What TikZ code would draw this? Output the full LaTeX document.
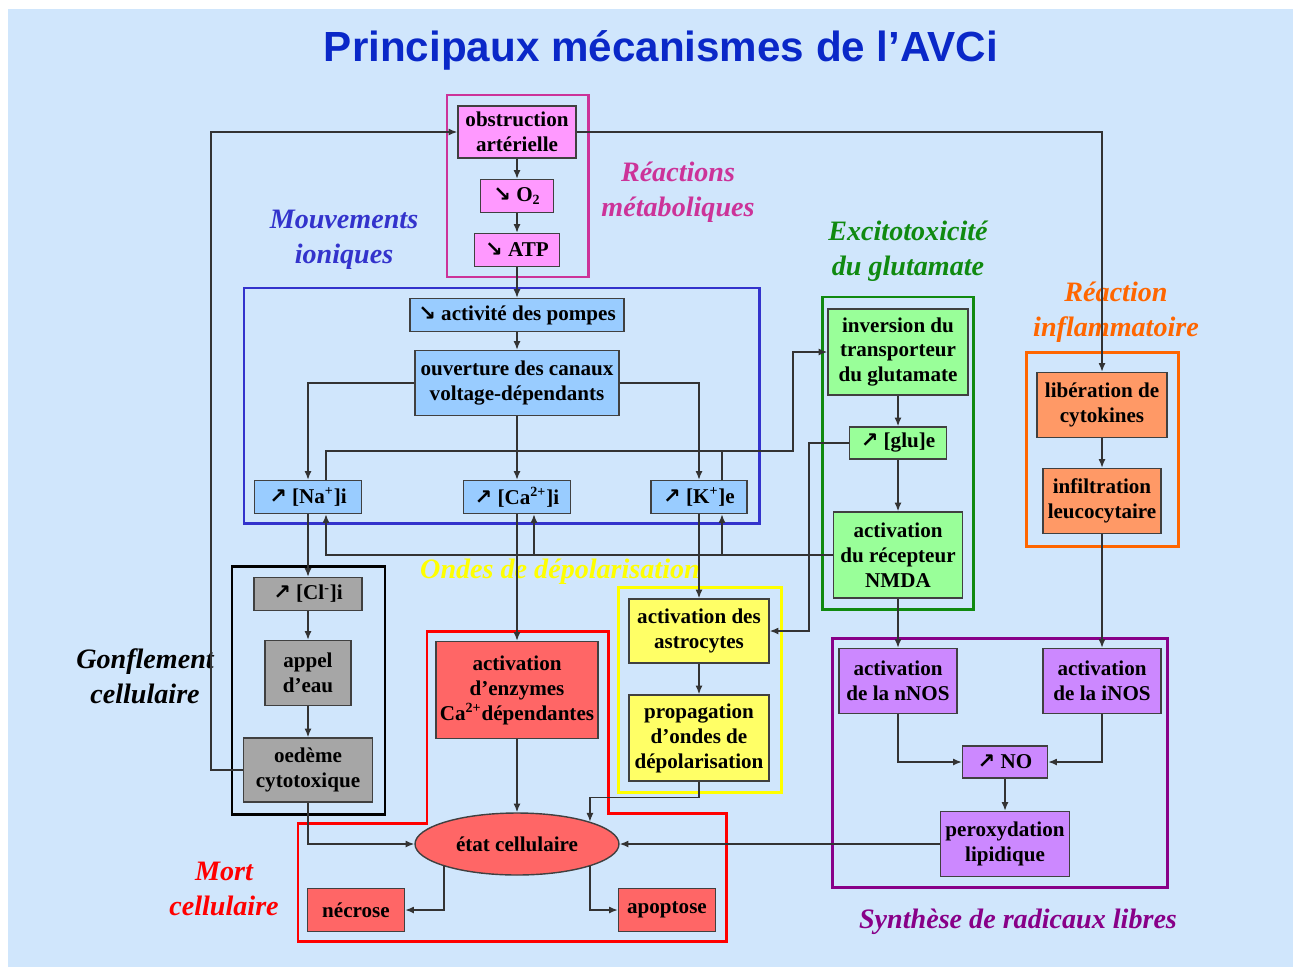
\documentclass[tikz,border=0pt]{standalone}
\usepackage{fontspec}
\setmainfont{Liberation Serif}
\newfontfamily\titrefont{Liberation Sans}
\newfontfamily\flechefont{DejaVu Sans}
\usepackage{xcolor}
\usepackage{tikz}
\usetikzlibrary{shapes,arrows.meta,positioning}

\definecolor{fond}{HTML}{D0E6FC}
\definecolor{titreC}{HTML}{0A28C8}
\definecolor{roseF}{HTML}{FF99FF}
\definecolor{roseC}{HTML}{CC3399}
\definecolor{bleuF}{HTML}{99CCFF}
\definecolor{bleuC}{HTML}{3333CC}
\definecolor{vertF}{HTML}{99FF99}
\definecolor{vertC}{HTML}{108A10}
\definecolor{orangeF}{HTML}{FF9966}
\definecolor{orangeC}{HTML}{FF6600}
\definecolor{grisF}{HTML}{A6A6A6}
\definecolor{rougeF}{HTML}{FF6666}
\definecolor{rougeC}{HTML}{FF0000}
\definecolor{jauneF}{HTML}{FFFF66}
\definecolor{jauneC}{HTML}{FFFF00}
\definecolor{violetF}{HTML}{CC88FF}
\definecolor{violetC}{HTML}{880088}

\newcommand{\hausse}{{\flechefont ↗}}
\newcommand{\baisse}{{\flechefont ↘}}

\begin{document}
\begin{tikzpicture}[
    x=0.02cm, y=-0.02cm,
    box/.style={draw=black!75, line width=0.8pt, rectangle, align=center, inner sep=1pt,
        font=\bfseries\fontsize{12}{14.2}\selectfont},
    cadre/.style={line width=1.7pt},
    titre/.style={align=center, font=\bfseries\itshape\fontsize{16}{20}\selectfont},
    arr/.style={-{Latex[length=5pt,width=4pt]}, line width=0.8pt, draw=black!80},
    lien/.style={line width=0.8pt, draw=black!80}
]
    \useasboundingbox (0,0) rectangle (1301,967);
    \fill[fond] (8,9) rectangle (1293,967);

    % Title
    \node[text=titreC, font=\titrefont\bfseries\fontsize{24}{28}\selectfont] (title) at (661,50) {Principaux mécanismes de l’AVCi};

    % Frames
    \draw[cadre, roseC] (447,95) rectangle (588,277);
    \draw[cadre, bleuC] (244,288) rectangle (759,523);
    \draw[cadre, vertC] (822,297) rectangle (973,609);
    \draw[cadre, orangeC] (1026,352) rectangle (1178,546);
    \draw[cadre, black] (232,566) rectangle (385,814);
    \draw[cadre, jauneC] (618,587) rectangle (781,792);
    \draw[cadre, violetC] (832,638) rectangle (1167,887);
    \draw[cadre, rougeC] (427,631) -- (608,631) -- (608,813) -- (726,813) -- (726,941)
        -- (298,941) -- (298,823) -- (427,823) -- cycle;

    % Group labels
    \node[titre, text=roseC] (lmeta) at (678,192) {Réactions\\métaboliques};
    \node[titre, text=bleuC] (lion) at (344,240) {Mouvements\\ioniques};
    \node[titre, text=vertC] (lexci) at (908,251) {Excitotoxicité\\du glutamate};
    \node[titre, text=orangeC] (linfl) at (1116,312) {Réaction\\inflammatoire};
    \node[titre, text=black] (lgonf) at (145,676) {Gonflement\\cellulaire};
    \node[titre, text=jauneC] (londes) at (560,572) {Ondes de dépolarisation};
    \node[titre, text=rougeC] (lmort) at (224,889) {Mort\\cellulaire};
    \node[titre, text=violetC] (lrad) at (1018,922) {Synthèse de radicaux libres};

    % Metabolic reactions
    \node[box, fill=roseF, minimum width=2.36cm, minimum height=1.04cm] (obst) at (517,132) {obstruction\\artérielle};
    \node[box, fill=roseF, minimum width=1.46cm, minimum height=0.66cm] (o2) at (517,196) {\baisse\ O\textsubscript{2}};
    \node[box, fill=roseF, minimum width=1.70cm, minimum height=0.66cm] (atp) at (517,250) {\baisse\ ATP};

    % Ionic movements
    \node[box, fill=bleuF, minimum width=4.28cm, minimum height=0.66cm] (pompes) at (517,315) {\baisse\ activité des pompes};
    \node[box, fill=bleuF, minimum width=4.08cm, minimum height=1.30cm] (canaux) at (517,383) {ouverture des canaux\\voltage-dépendants};
    \node[box, fill=bleuF, minimum width=2.14cm, minimum height=0.66cm] (na) at (308,497) {\hausse\ [Na\textsuperscript{+}]i};
    \node[box, fill=bleuF, minimum width=2.14cm, minimum height=0.66cm] (ca) at (517,497) {\hausse\ [Ca\textsuperscript{2+}]i};
    \node[box, fill=bleuF, minimum width=1.92cm, minimum height=0.66cm] (k) at (699,497) {\hausse\ [K\textsuperscript{+}]e};

    % Glutamate
    \node[box, fill=vertF, minimum width=2.80cm, minimum height=1.72cm] (inv) at (898,352) {inversion du\\transporteur\\du glutamate};
    \node[box, fill=vertF, minimum width=1.94cm, minimum height=0.64cm] (glu) at (898,443) {\hausse\ [glu]e};
    \node[box, fill=vertF, minimum width=2.58cm, minimum height=1.72cm] (nmda) at (898,555) {activation\\du récepteur\\NMDA};

    % Inflammation
    \node[box, fill=orangeF, minimum width=2.60cm, minimum height=1.30cm] (cyto) at (1102,405) {libération de\\cytokines};
    \node[box, fill=orangeF, minimum width=2.36cm, minimum height=1.30cm] (leuco) at (1102,501) {infiltration\\leucocytaire};

    % Swelling
    \node[box, fill=grisF, minimum width=2.16cm, minimum height=0.66cm] (cl) at (308,594) {\hausse\ [Cl\textsuperscript{-}]i};
    \node[box, fill=grisF, minimum width=1.72cm, minimum height=1.30cm] (eau) at (308,673) {appel\\d’eau};
    \node[box, fill=grisF, minimum width=2.58cm, minimum height=1.28cm] (oedeme) at (308,770) {oedème\\cytotoxique};

    % Cell death
    \node[box, fill=rougeF, minimum width=3.24cm, minimum height=1.94cm] (enz) at (517,690) {activation\\d’enzymes\\Ca\textsuperscript{2+}dépendantes};
    \node[box, ellipse, fill=rougeF, inner sep=0pt, minimum width=4.08cm, minimum height=1.24cm] (etat) at (517,844) {état cellulaire};
    \node[box, fill=rougeF, minimum width=1.94cm, minimum height=0.86cm] (necrose) at (356,910) {nécrose};
    \node[box, fill=rougeF, minimum width=1.94cm, minimum height=0.86cm] (apoptose) at (667,910) {apoptose};

    % Depolarisation waves
    \node[box, fill=jauneF, minimum width=2.80cm, minimum height=1.28cm] (astro) at (699,631) {activation des\\astrocytes};
    \node[box, fill=jauneF, minimum width=2.80cm, minimum height=1.72cm] (propag) at (699,738) {propagation\\d’ondes de\\dépolarisation};

    % Free radicals
    \node[box, fill=violetF, minimum width=2.36cm, minimum height=1.30cm] (nnos) at (898,681) {activation\\de la nNOS};
    \node[box, fill=violetF, minimum width=2.36cm, minimum height=1.30cm] (inos) at (1102,681) {activation\\de la iNOS};
    \node[box, fill=violetF, minimum width=1.70cm, minimum height=0.64cm] (no) at (1005,762) {\hausse\ NO};
    \node[box, fill=violetF, minimum width=2.58cm, minimum height=1.30cm] (perox) at (1005,844) {peroxydation\\lipidique};

    % Connectors
    \draw[arr] (obst) -- (o2);
    \draw[arr] (o2) -- (atp);
    \draw[arr] (atp) -- (pompes);
    \draw[arr] (pompes) -- (canaux);
    \draw[arr] (canaux.west) -| (na);
    \draw[arr] (canaux) -- (ca);
    \draw[arr] (canaux.east) -| (k);
    \coordinate (jinv) at (793,451);
    \draw[arr] ([xshift=0.36cm]na.north) |- (jinv) |- (inv.west);
    \draw[lien] ([xshift=0.46cm]k.north) |- (jinv);
    \draw[arr] (nmda.west) -| ([xshift=0.36cm]na.south);
    \draw[arr] (nmda.west) -| ([xshift=0.34cm]ca.south);
    \draw[arr] (nmda.west) -| ([xshift=0.46cm]k.south);
    \draw[arr] (na) -- (cl);
    \draw[arr] (cl) -- (eau);
    \draw[arr] (eau) -- (oedeme);
    \draw[arr] (oedeme.west) -- ++(-32,0) |- (obst.west);
    \draw[arr] (oedeme.south) |- (etat.west);
    \draw[arr] (ca) -- (enz);
    \draw[arr] (enz) -- (etat);
    \draw[arr] (k) -- (astro);
    \draw[arr] (astro) -- (propag);
    \draw[arr] (propag.south) -- ++(0,16) -| (etat.17);
    \draw[arr] (inv) -- (glu);
    \draw[arr] (glu) -- (nmda);
    \draw[arr] (glu.west) -- ++(-40,0) |- (astro.east);
    \draw[arr] (nmda) -- (nnos);
    \draw[arr] (obst.east) -| (cyto);
    \draw[arr] (cyto) -- (leuco);
    \draw[arr] (leuco) -- (inos);
    \draw[arr] (nnos.south) |- (no.west);
    \draw[arr] (inos.south) |- (no.east);
    \draw[arr] (no) -- (perox);
    \draw[arr] (perox.west) -- (etat.east);
    \draw[arr] (etat.197) |- (necrose.east);
    \draw[arr] (etat.-17) |- (apoptose.west);
\end{tikzpicture}
\end{document}
